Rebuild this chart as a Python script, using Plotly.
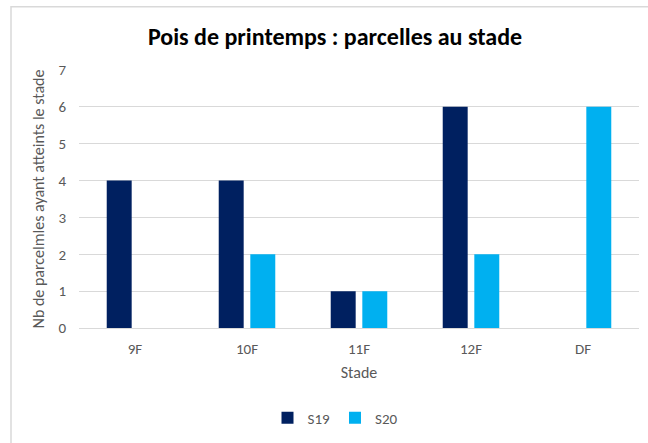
import plotly.graph_objects as go

categories = ["9F", "10F", "11F", "12F", "DF"]
s19 = [4, 4, 1, 6, 0]
s20 = [0, 2, 1, 2, 6]
yticks = [0, 1, 2, 3, 4, 5, 6, 7]

FONT = "Calibri, Carlito, Lato, sans-serif"
GRAY = "#595959"

fig = go.Figure()
fig.add_trace(go.Bar(x=categories, y=s19, name="S19", marker_color="#002060", marker_line_width=0))
fig.add_trace(go.Bar(x=categories, y=s20, name="S20", marker_color="#00B0F0", marker_line_width=0))

L, R, T, B = 79, 9, 70, 112
W, H = 648, 443
pw = W - L - R
ph = H - T - B

def px2x(px):
    return (px - L) / pw

def py2y(py):
    return (H - B - py) / ph

fig.update_layout(
    width=W, height=H,
    margin=dict(l=L, r=R, t=T, b=B, pad=0),
    paper_bgcolor="white", plot_bgcolor="white",
    font=dict(family=FONT, color=GRAY, size=15),
    barmode="group", bargap=0.436, bargroupgap=0.21,
    title=dict(text="<b>Pois de printemps : parcelles au stade</b>",
               font=dict(family=FONT, size=24, color="black"),
               x=px2x(335), xref="paper", xanchor="center",
               y=1 - 37 / H, yanchor="middle"),
    xaxis=dict(showgrid=False, showline=True, linecolor="#d9d9d9", linewidth=1,
               ticks="", ticklabelstandoff=7, tickfont=dict(size=15),
               title=dict(text="Stade", standoff=9, font=dict(size=16, color=GRAY))),
    yaxis=dict(range=[0, 7], tickvals=yticks, showgrid=True, gridcolor="#d9d9d9",
               gridwidth=1, zeroline=False, showline=False, ticks="",
               ticklabelstandoff=12, tickfont=dict(size=15),
               title=dict(text="Nb de parcelmles ayant atteints le stade", standoff=9,
                          font=dict(size=16, color=GRAY))),
    legend=dict(orientation="h", x=px2x(335), xanchor="center", y=py2y(422), yanchor="middle",
                font=dict(size=15, color=GRAY), itemwidth=30, traceorder="normal"),
    shapes=[dict(type="rect", xref="paper", yref="paper",
                 x0=px2x(11), x1=px2x(660), y0=py2y(460), y1=py2y(6),
                 line=dict(color="#d9d9d9", width=1.5), fillcolor="rgba(0,0,0,0)", layer="below")],
)

fig.write_html("out.html", config={"displayModeBar": False},
               post_script="document.body.style.margin='0px';document.body.style.overflow='hidden';")
